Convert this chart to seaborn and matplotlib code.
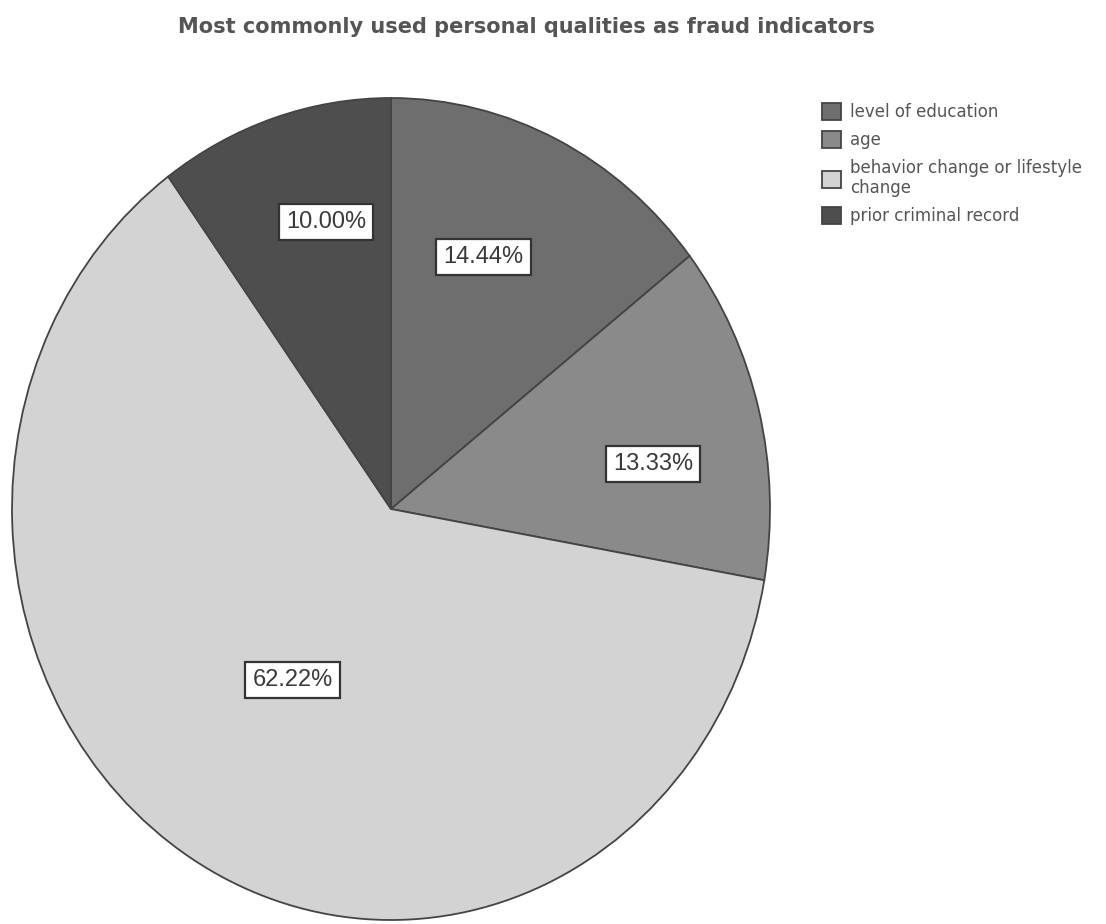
import matplotlib
matplotlib.use("Agg")
import matplotlib.pyplot as plt
import seaborn as sns
import numpy as np

categories = ["level of education", "age", "behavior change or lifestyle\nchange", "prior criminal record"]
values = [14.44, 13.33, 62.22, 10.00]
colors = ["#6e6e6e", "#8a8a8a", "#d3d3d3", "#4e4e4e"]
# placement of each percentage label: fraction of radius, and angular nudge (degrees)
label_radii = [0.66, 0.70, 0.49, 0.72]
label_nudge = [4.3, -5.0, 0.0, -4.2]

sns.set_theme(style="white")
plt.rcParams["font.family"] = ["Liberation Sans", "DejaVu Sans"]

fig = plt.figure(figsize=(11.06, 9.24), dpi=100)
fig.patch.set_facecolor("white")
ax = fig.add_axes([12 / 1106, 1 - 920 / 924, 758 / 1106, 822 / 924])

palette = sns.color_palette(colors)
wedges, _ = ax.pie(values, colors=palette, startangle=90, counterclock=False,
                   radius=1.0, wedgeprops=dict(edgecolor="#444444", linewidth=1.3))
ax.set_aspect("auto")
ax.set_xlim(-1.0, 1.0)
ax.set_ylim(-1.0, 1.0)
ax.axis("off")

for w, v, r, d in zip(wedges, values, label_radii, label_nudge):
    ang = np.deg2rad((w.theta1 + w.theta2) / 2 + d)
    ax.text(r * np.cos(ang), r * np.sin(ang), f"{v:.2f}%", ha="center", va="center",
            fontsize=17, color="#3a3a3a",
            bbox=dict(boxstyle="square,pad=0.3", facecolor="white", edgecolor="#333333", linewidth=1.6))

fig.text(526 / 1106, 1 - 27 / 924, "Most commonly used personal qualities as fraud indicators",
         ha="center", va="center", fontsize=15, fontweight="bold", color="#555555",
         family=["DejaVu Sans"])

leg = fig.legend(wedges, categories, loc="upper left", bbox_to_anchor=(822 / 1106, 1 - 103 / 924),
                 frameon=False, prop={"family": "DejaVu Sans", "size": 12},
                 handlelength=1.15, handleheight=1.2, handletextpad=0.55,
                 labelspacing=0.6, borderaxespad=0, borderpad=0)
for t in leg.get_texts():
    t.set_color("#555555")
    t.set_linespacing(1.1)

fig.savefig("out.png", dpi=100, facecolor="white")
